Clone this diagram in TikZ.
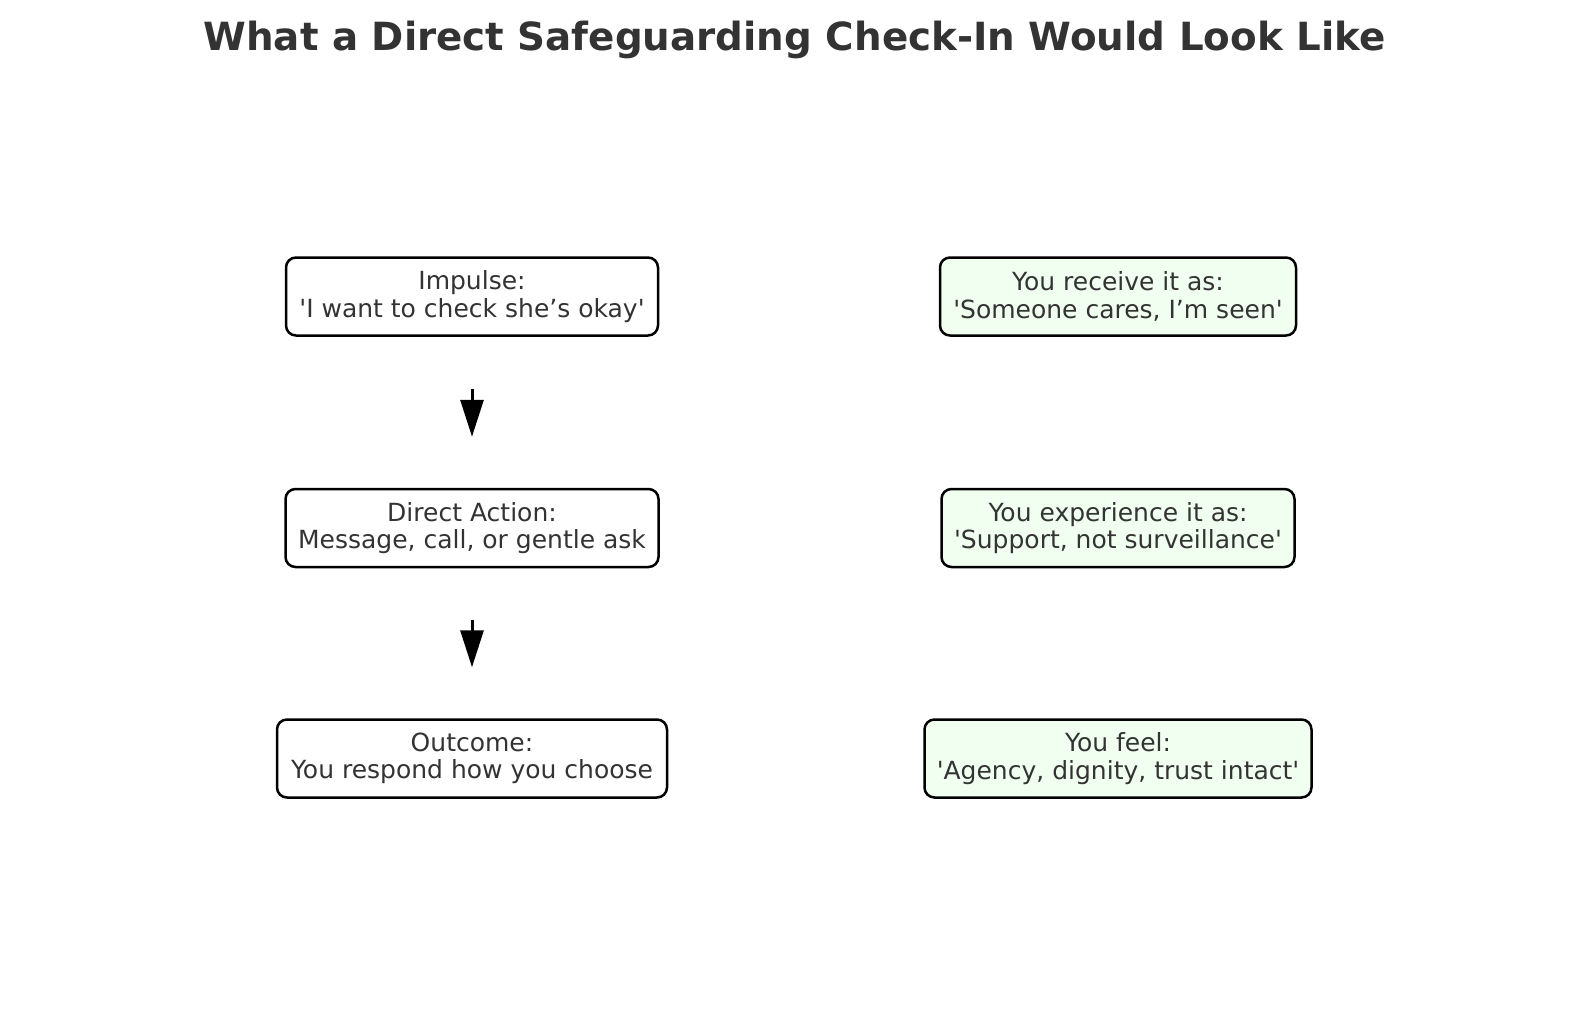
\documentclass[tikz,border=0pt]{standalone}
\usepackage{fontspec}
\setmainfont{DejaVu Sans}
\usetikzlibrary{arrows.meta}
\definecolor{txt}{HTML}{333333}
\definecolor{soft}{HTML}{F0FFF0}
\newcommand{\sq}{\textquotesingle}
\begin{document}
\begin{tikzpicture}[x=1pt,y=-1pt,
  box/.style={draw=black, line width=2.5pt, rounded corners=10pt, fill=white,
    text=txt, align=center, inner sep=0pt, minimum height=78pt,
    font=\fontsize{25}{27.5}\selectfont,
    execute at begin node={\rule{0pt}{23pt}}},
  greenbox/.style={box, fill=soft},
  flow/.style={line width=3pt, -{Triangle[length=37pt 0 0, width=23pt 0 0]}}]
\useasboundingbox (0,0) rectangle (1589,1010);
\node[text=txt, font=\fontsize{38.8}{44}\bfseries\selectfont] (title) at (794.5,40) {What a Direct Safeguarding Check-In Would Look Like};
\node[box, minimum width=372pt] (imp) at (472,296.5) {Impulse:\\\sq I want to check she’s okay\sq};
\node[box, minimum width=373pt] (act) at (472,528) {Direct Action:\\Message, call, or gentle ask};
\node[box, minimum width=390pt] (out) at (472,758.5) {Outcome:\\You respond how you choose};
\node[greenbox, minimum width=356pt] (rec) at (1118,296.5) {You receive it as:\\\sq Someone cares, I’m seen\sq};
\node[greenbox, minimum width=353pt] (exp) at (1118,528) {You experience it as:\\\sq Support, not surveillance\sq};
\node[greenbox, minimum width=387pt] (feel) at (1118,758.5) {You feel:\\\sq Agency, dignity, trust intact\sq};
\draw[flow, shorten <=52pt, shorten >=51pt] (imp.south) -- (act.north);
\draw[flow, shorten <=52pt, shorten >=51pt] (act.south) -- (out.north);
\end{tikzpicture}
\end{document}
